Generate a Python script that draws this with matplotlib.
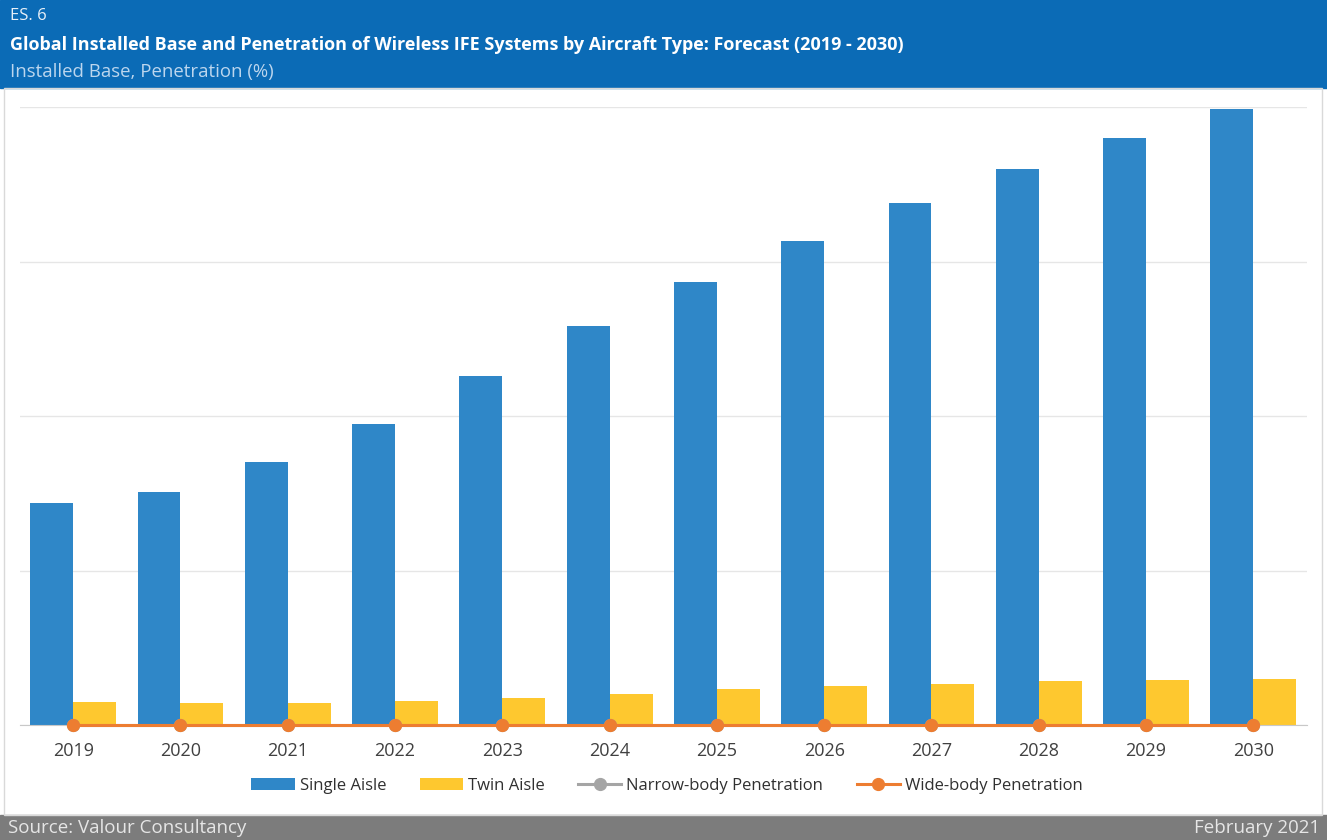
import matplotlib.pyplot as plt
import matplotlib.patches as mpatches
import numpy as np

# data (installed base in gridline units, penetration sits at 0)
years = ['2019', '2020', '2021', '2022', '2023', '2024',
         '2025', '2026', '2027', '2028', '2029', '2030']
single_aisle = [1.44, 1.51, 1.70, 1.95, 2.26, 2.58, 2.87, 3.13, 3.38, 3.60, 3.80, 3.99]
twin_aisle = [0.15, 0.14, 0.145, 0.155, 0.175, 0.20, 0.23, 0.25, 0.265, 0.285, 0.29, 0.30]
narrow_pen = [0] * 12
wide_pen = [0] * 12

blue = '#2f87c8'
yellow = '#fec82f'
grey = '#a5a5a5'
orange = '#ed7d31'
header = '#0b6bb6'
footer = '#7c7c7c'

plt.rcParams['font.family'] = ['Open Sans', 'DejaVu Sans']

fig = plt.figure(figsize=(13.27, 8.4), dpi=100)

# header and footer bands
fig.patches.append(mpatches.Rectangle((0, 1 - 88 / 840), 1, 88 / 840, transform=fig.transFigure,
                                      color=header, zorder=0))
fig.patches.append(mpatches.Rectangle((0, 0), 1, 25 / 840, transform=fig.transFigure,
                                      color=footer, zorder=0))
fig.patches.append(mpatches.Rectangle((4 / 1327, 25 / 840), 1318 / 1327, 727 / 840,
                                      transform=fig.transFigure, fill=False,
                                      edgecolor='#d9d9d9', lw=1, zorder=0))

fig.text(10 / 1327, 1 - 16 / 840, 'ES. 6', color='#e8f0f8', fontsize=12, va='center')
fig.text(10 / 1327, 1 - 45 / 840,
         'Global Installed Base and Penetration of Wireless IFE Systems by Aircraft Type: Forecast (2019 - 2030)',
         color='white', fontsize=13, fontweight='bold', va='center')
fig.text(10 / 1327, 1 - 72 / 840, 'Installed Base, Penetration (%)', color='#bcd6ee', fontsize=13.4, va='center')
fig.text(8 / 1327, 12 / 840, 'Source: Valour Consultancy', color='#e6e6e6', fontsize=13.5, va='center')
fig.text(1320 / 1327, 12 / 840, 'February 2021', color='#e6e6e6', fontsize=13.5, va='center', ha='right')

ax = fig.add_axes([19.5 / 1327, 1 - 725 / 840, (1307 - 19.5) / 1327, (725 - 107) / 840])
x = np.arange(len(years))
w = 0.4
b1 = ax.bar(x - w / 2, single_aisle, w, color=blue, label='Single Aisle', zorder=2)
b2 = ax.bar(x + w / 2, twin_aisle, w, color=yellow, label='Twin Aisle', zorder=2)
l1, = ax.plot(x, narrow_pen, color=grey, lw=2.2, marker='o', ms=8.5, label='Narrow-body Penetration',
              zorder=3, clip_on=False)
l2, = ax.plot(x, wide_pen, color=orange, lw=2.2, marker='o', ms=8.5, label='Wide-body Penetration',
              zorder=4, clip_on=False)

ax.set_xlim(-0.5, len(years) - 0.5)
ax.set_ylim(0, 4)
ax.set_yticks([0, 1, 2, 3, 4])
ax.set_yticklabels([])
ax.tick_params(axis='y', length=0)
ax.tick_params(axis='x', length=0, pad=12, labelsize=13, labelcolor='#404040')
ax.set_xticks(x)
ax.set_xticklabels(years)
ax.grid(axis='y', color='#e6e6e6', lw=1, zorder=0)
ax.set_axisbelow(True)
for s in ['top', 'right', 'left']:
    ax.spines[s].set_visible(False)
ax.spines['bottom'].set_color('#c8c8c8')

fig.legend([b1, b2, l1, l2], [h.get_label() for h in (b1, b2, l1, l2)],
           loc='center', bbox_to_anchor=(667 / 1327, 1 - 786 / 840), ncol=4, frameon=False,
           fontsize=12, handlelength=2.6, columnspacing=2.0, handletextpad=0.3,
           labelcolor='#303030')

plt.savefig('out.png', dpi=100)
